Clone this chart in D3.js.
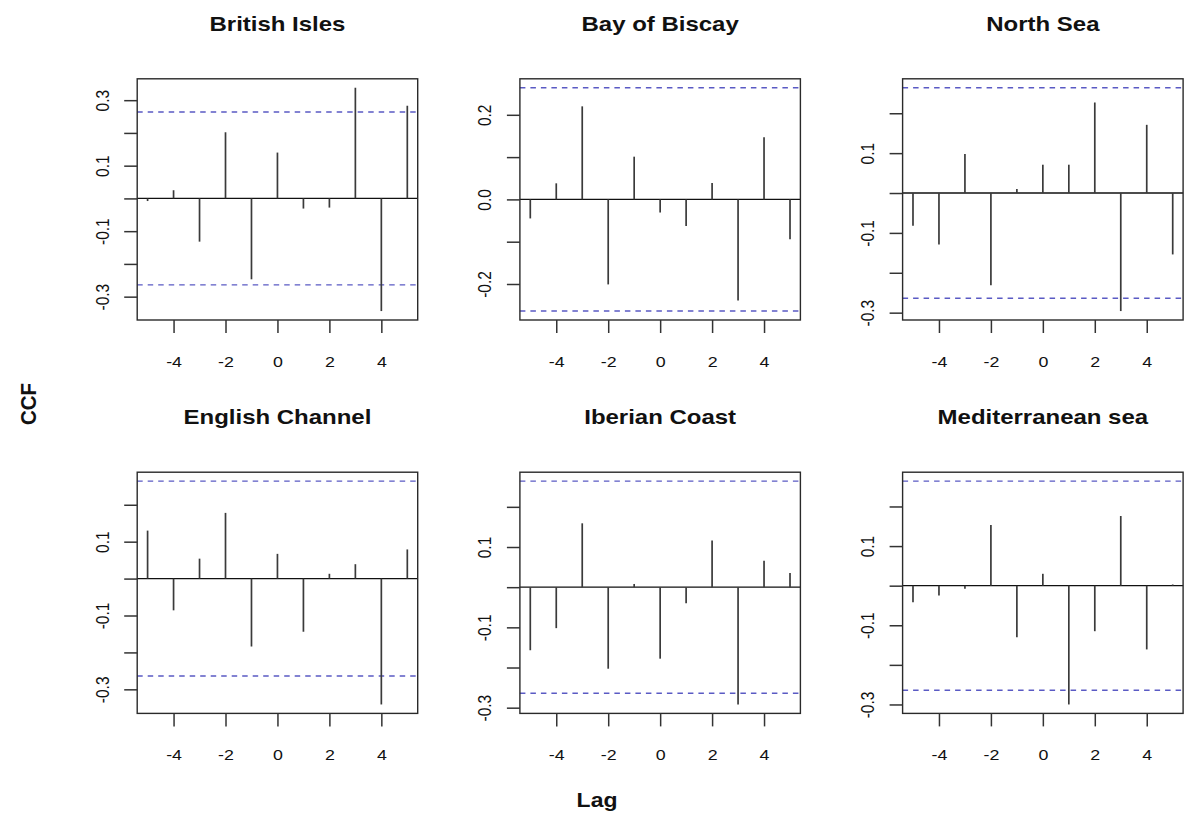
<!DOCTYPE html>
<html>
<head>
<meta charset="utf-8">
<script src="https://cdn.jsdelivr.net/npm/d3@7"></script>
<style>
  html, body { margin: 0; padding: 0; background: #fff; }
  svg { display: block; }
  text { font-family: "Liberation Sans", Arial, Helvetica, sans-serif; fill: #111; }
</style>
</head>
<body>
<svg id="chart" width="1184" height="838"></svg>
<script>
// ---------------- data ----------------
const lags = [-5, -4, -3, -2, -1, 0, 1, 2, 3, 4, 5];
const panelTitles = ["British Isles", "Bay of Biscay", "North Sea",
                     "English Channel", "Iberian Coast", "Mediterranean sea"];
const britishIsles     = [-0.008, 0.025, -0.132, 0.202, -0.247, 0.140, -0.031, -0.028, 0.338, -0.344, 0.283];
const bayOfBiscay      = [-0.045, 0.038, 0.220, -0.201, 0.101, -0.031, -0.063, 0.039, -0.239, 0.147, -0.094];
const northSea         = [-0.082, -0.129, 0.098, -0.231, 0.010, 0.071, 0.071, 0.227, -0.296, 0.171, -0.154];
const englishChannel   = [0.130, -0.086, 0.054, 0.178, -0.184, 0.067, -0.144, 0.013, 0.039, -0.341, 0.079];
const iberianCoast     = [-0.157, -0.102, 0.159, -0.203, 0.008, -0.178, -0.040, 0.116, -0.292, 0.066, 0.035];
const mediterraneanSea = [-0.042, -0.025, -0.008, 0.153, -0.130, 0.030, -0.300, -0.115, 0.176, -0.161, 0.003];
const ciLimit = 0.264;
const xTickValues = [-4, -2, 0, 2, 4];
const yTickValues = [
  [-0.3, -0.2, -0.1, 0, 0.1, 0.2, 0.3],
  [-0.2, -0.1, 0, 0.1, 0.2],
  [-0.3, -0.2, -0.1, 0, 0.1, 0.2],
  [-0.3, -0.2, -0.1, 0, 0.1, 0.2],
  [-0.3, -0.2, -0.1, 0, 0.1, 0.2],
  [-0.3, -0.2, -0.1, 0, 0.1, 0.2]
];
const yTickLabels = [
  [-0.3, -0.1, 0.1, 0.3],
  [-0.2, 0, 0.2],
  [-0.3, -0.1, 0.1],
  [-0.3, -0.1, 0.1],
  [-0.3, -0.1, 0.1],
  [-0.3, -0.1, 0.1]
];
const xAxisTitle = "Lag";
const yAxisTitle = "CCF";
const seriesList = [britishIsles, bayOfBiscay, northSea, englishChannel, iberianCoast, mediterraneanSea];

// ---------------- layout ----------------
const svg = d3.select("#chart");
const boxW = 280.5, boxH = 241.2;
const colLeft = c => 137.2 + c * 382.7;
const rowTop = r => 78.8 + r * 393.4;
const tickLen = 13;
const sx = 1.15;     // horizontal stretch of glyphs seen in the reference
const fmtY = v => {
  const s = d3.format(".1f")(Math.abs(v) < 1e-9 ? 0 : v);
  return s.replace("\u2212", "-");
};

seriesList.forEach((vals, i) => {
  const c = i % 3, r = Math.floor(i / 3);
  const L = colLeft(c), T = rowTop(r);
  const g = svg.append("g").attr("transform", `translate(${L},${T})`);

  const x = d3.scaleLinear().domain([-5.4, 5.4]).range([0, boxW]);
  const ext = d3.extent(vals.concat([ciLimit, -ciLimit]));
  const pad = (ext[1] - ext[0]) * 0.04;
  const y = d3.scaleLinear().domain([ext[0] - pad, ext[1] + pad]).range([boxH, 0]);

  // zero line
  g.append("line")
    .attr("x1", 0).attr("x2", boxW)
    .attr("y1", y(0)).attr("y2", y(0))
    .attr("stroke", "#111").attr("stroke-width", 1.3);

  // confidence limits
  [ciLimit, -ciLimit].forEach(cl => {
    g.append("line")
      .attr("x1", 0).attr("x2", boxW)
      .attr("y1", y(cl)).attr("y2", y(cl))
      .attr("stroke", "#5a5ac4").attr("stroke-width", 1.4)
      .attr("stroke-dasharray", "5.5,5");
  });

  // bars
  g.selectAll("line.bar").data(vals).enter().append("line")
    .attr("class", "bar")
    .attr("x1", (d, k) => x(lags[k])).attr("x2", (d, k) => x(lags[k]))
    .attr("y1", y(0)).attr("y2", d => y(d))
    .attr("stroke", "#3a3a3a").attr("stroke-width", 1.7);

  // box
  g.append("rect")
    .attr("x", 0).attr("y", 0).attr("width", boxW).attr("height", boxH)
    .attr("fill", "none").attr("stroke", "#2a2a2a").attr("stroke-width", 1.4);

  // x axis
  const xa = g.append("g").attr("transform", `translate(0,${boxH})`)
    .call(d3.axisBottom(x).tickValues(xTickValues).tickSize(tickLen)
      .tickFormat(d => String(d)));
  xa.select(".domain").remove();
  xa.selectAll(".tick line").attr("stroke", "#333").attr("stroke-width", 1.5);
  xa.selectAll(".tick text")
    .attr("y", 47).attr("dy", null)
    .attr("transform", `scale(${sx},1)`)
    .style("font-size", "15.5px").attr("fill", "#111");

  // y axis
  const labs = yTickLabels[i];
  const ya = g.append("g")
    .call(d3.axisLeft(y).tickValues(yTickValues[i]).tickSize(tickLen)
      .tickFormat(d => labs.some(v => Math.abs(v - d) < 1e-9) ? fmtY(d) : ""));
  ya.select(".domain").remove();
  ya.selectAll(".tick line").attr("stroke", "#333").attr("stroke-width", 1.5);
  ya.selectAll(".tick text")
    .attr("x", null).attr("dy", null)
    .attr("text-anchor", "middle")
    .attr("transform", `translate(-28.5,0) scale(${sx},1) rotate(-90)`)
    .style("font-size", "15.5px").attr("fill", "#111");

  // title
  svg.append("text")
    .attr("transform", `translate(${L + boxW / 2},${T - 48}) scale(1.17,1)`)
    .attr("text-anchor", "middle")
    .style("font-size", "20.5px").style("font-weight", "bold")
    .text(panelTitles[i]);
});

// outer axis titles
svg.append("text")
  .attr("transform", `translate(597,807) scale(1.12,1)`)
  .attr("text-anchor", "middle")
  .style("font-size", "20.5px").style("font-weight", "bold")
  .text(xAxisTitle);

svg.append("text")
  .attr("transform", `translate(36,404) scale(1.12,1) rotate(-90)`)
  .attr("text-anchor", "middle")
  .style("font-size", "20.5px").style("font-weight", "bold")
  .text(yAxisTitle);
</script>
</body>
</html>
